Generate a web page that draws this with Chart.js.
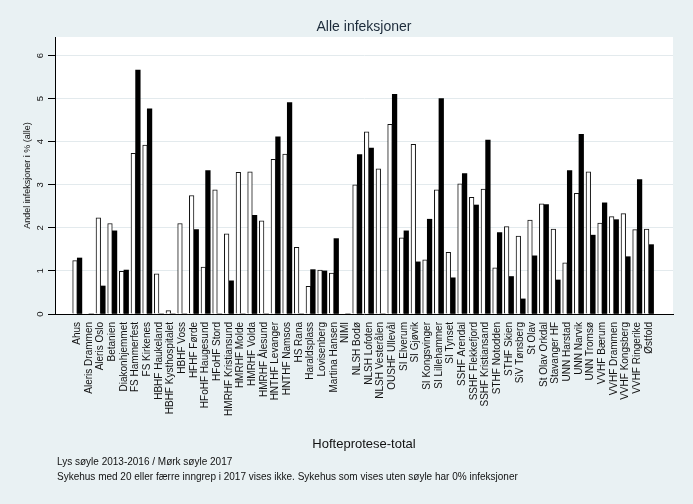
<!DOCTYPE html>
<html>
<head>
<meta charset="utf-8">
<script src="https://cdn.jsdelivr.net/npm/chart.js@4.4.1/dist/chart.umd.min.js"></script>
<style>
  html, body { margin: 0; padding: 0; background: #e9f1f3; }
  #wrap { width: 693px; height: 504px; }
</style>
</head>
<body>
<div id="wrap"><canvas id="c" width="693" height="504"></canvas></div>
<script>
const categories = [
  "Ahus", "Aleris Drammen", "Aleris Oslo", "Betanien", "Diakonhjemmet",
  "FS Hammerfest", "FS Kirkenes", "HBHF Haukeland", "HBHF Kysthospitalet", "HBHF Voss",
  "HFHF Førde", "HFoHF Haugesund", "HFoHF Stord", "HMRHF Kristiansund", "HMRHF Molde",
  "HMRHF Volda", "HMRHF Ålesund", "HNTHF Levanger", "HNTHF Namsos", "HS Rana",
  "Haraldsplass", "Lovisenberg", "Martina Hansen", "NIMI", "NLSH Bodø",
  "NLSH Lofoten", "NLSH Vesterålen", "OUSHF Ullevål", "SI Elverum", "SI Gjøvik",
  "SI Kongsvinger", "SI Lillehammer", "SI Tynset", "SSHF Arendal", "SSHF Flekkefjord",
  "SSHF Kristiansand", "STHF Notodden", "STHF Skien", "SiV Tønsberg", "St Olav",
  "St Olav Orkdal", "Stavanger HF", "UNN Harstad", "UNN Narvik", "UNN Tromsø",
  "VVHF Bærum", "VVHF Drammen", "VVHF Kongsberg", "VVHF Ringerike", "Østfold"
];
const light2013_2016 = [
  1.24, 0, 2.23, 2.10, 0.99,
  3.73, 3.92, 0.93, 0.08, 2.10,
  2.75, 1.09, 2.88, 1.86, 3.29,
  3.30, 2.16, 3.59, 3.71, 1.55,
  0.64, 1.02, 0.95, 0, 3.00,
  4.23, 3.37, 4.40, 1.77, 3.94,
  1.26, 2.88, 1.43, 3.02, 2.71,
  2.90, 1.07, 2.03, 1.81, 2.18,
  2.56, 1.97, 1.19, 2.80, 3.30,
  2.11, 2.26, 2.33, 1.96, 1.97
];
const dark2017 = [
  1.30, 0, 0.65, 1.93, 1.02,
  5.66, 4.76, 0, 0, 0,
  1.96, 3.33, 0, 0.77, 0,
  2.29, 0, 4.11, 4.91, 0,
  1.03, 1.00, 1.75, 0, 3.70,
  3.85, 0, 5.10, 1.93, 1.21,
  2.20, 5.00, 0.84, 3.26, 2.53,
  4.04, 1.89, 0.87, 0.35, 1.35,
  2.54, 0.79, 3.33, 4.17, 1.83,
  2.58, 2.19, 1.33, 3.12, 1.61
];
const yTicks = [0, 1, 2, 3, 4, 5, 6];
const chartTitle = "Alle infeksjoner";
const xTitle = "Hofteprotese-total";
const yTitle = "Andel infeksjoner i % (alle)";
const notes = [
  "Lys søyle 2013-2016 / Mørk søyle 2017",
  "Sykehus med 20 eller færre inngrep i 2017 vises ikke. Sykehus som vises uten søyle har 0% infeksjoner"
];

const FONT = "'Liberation Sans', Arial, sans-serif";
Chart.defaults.font.family = FONT;
Chart.defaults.color = '#111';

const bgPlugin = {
  id: 'bg',
  beforeDraw(chart) {
    const {ctx, chartArea: a} = chart;
    ctx.save();
    ctx.fillStyle = '#e9f1f3';
    ctx.fillRect(0, 0, chart.width, chart.height);
    ctx.fillStyle = '#ffffff';
    ctx.fillRect(a.left, a.top, a.right - a.left, a.bottom - a.top);
    ctx.restore();
  }
};
const notesPlugin = {
  id: 'notes',
  afterDraw(chart) {
    const ctx = chart.ctx;
    ctx.save();
    ctx.font = "10px " + FONT;
    ctx.fillStyle = '#111';
    ctx.textAlign = 'left';
    ctx.textBaseline = 'alphabetic';
    ctx.fillText(notes[0], 57, 465);
    ctx.fillText(notes[1], 57, 480);
    ctx.restore();
  }
};

const isInt = v => Math.abs(v - Math.round(v)) < 1e-9;

new Chart(document.getElementById('c'), {
  type: 'bar',
  data: {
    datasets: [
      {
        label: '2013-2016',
        data: light2013_2016.map((v, i) => ({x: i, y: v})),
        backgroundColor: '#ffffff',
        borderColor: '#111111',
        borderWidth: 1,
        borderSkipped: 'start',
        barThickness: 4.6
      },
      {
        label: '2017',
        data: dark2017.map((v, i) => ({x: i, y: v})),
        backgroundColor: '#000000',
        borderWidth: 0,
        barThickness: 4.6
      }
    ]
  },
  options: {
    responsive: false,
    animation: false,
    devicePixelRatio: 1,
    layout: { padding: { left: 0, right: 17, top: 0, bottom: 0 } },
    plugins: {
      legend: { display: false },
      tooltip: { enabled: false },
      title: {
        display: true,
        text: chartTitle,
        fullSize: false,
        color: '#1c2b3a',
        font: { size: 14, weight: 'normal', lineHeight: 1.2 },
        padding: { top: 19, bottom: 1.2 }
      }
    },
    scales: {
      x: {
        type: 'linear',
        min: -1.91,
        max: 51.06,
        offset: false,
        grid: { display: false, drawTicks: false },
        border: { display: true, color: '#000', width: 1 },
        ticks: {
          stepSize: 1,
          autoSkip: false,
          minRotation: 90,
          maxRotation: 90,
          padding: 8,
          color: '#111',
          font: { size: 10 },
          callback: v => (isInt(v) && v >= 0 && v < categories.length) ? categories[Math.round(v)] : ''
        },
        title: {
          display: true,
          text: xTitle,
          color: '#111',
          font: { size: 13, lineHeight: 1.2 },
          padding: { top: 0, bottom: 52.2 }
        },
        afterFit(scale) { scale.height = 190; }
      },
      y: {
        type: 'linear',
        min: 0,
        max: 6.43,
        grid: {
          color: c => (c.tick && c.tick.value !== 0) ? '#e3eaed' : 'rgba(0,0,0,0)',
          tickColor: '#000',
          tickLength: 7,
          lineWidth: 1
        },
        border: { display: true, color: '#000', width: 1 },
        ticks: {
          stepSize: 1,
          minRotation: 90,
          maxRotation: 90,
          crossAlign: 'center',
          padding: 5,
          color: '#111',
          font: { size: 9.5 },
          callback: v => String(v)
        },
        afterBuildTicks(scale) {
          scale.ticks = yTicks.map(v => ({ value: v }));
        },
        title: {
          display: true,
          text: yTitle,
          color: '#111',
          font: { size: 9, lineHeight: 1.2 },
          padding: { top: 22.6, bottom: 0 }
        },
        afterFit(scale) { scale.width = 55; }
      }
    }
  },
  plugins: [bgPlugin, notesPlugin]
});
</script>
</body>
</html>
